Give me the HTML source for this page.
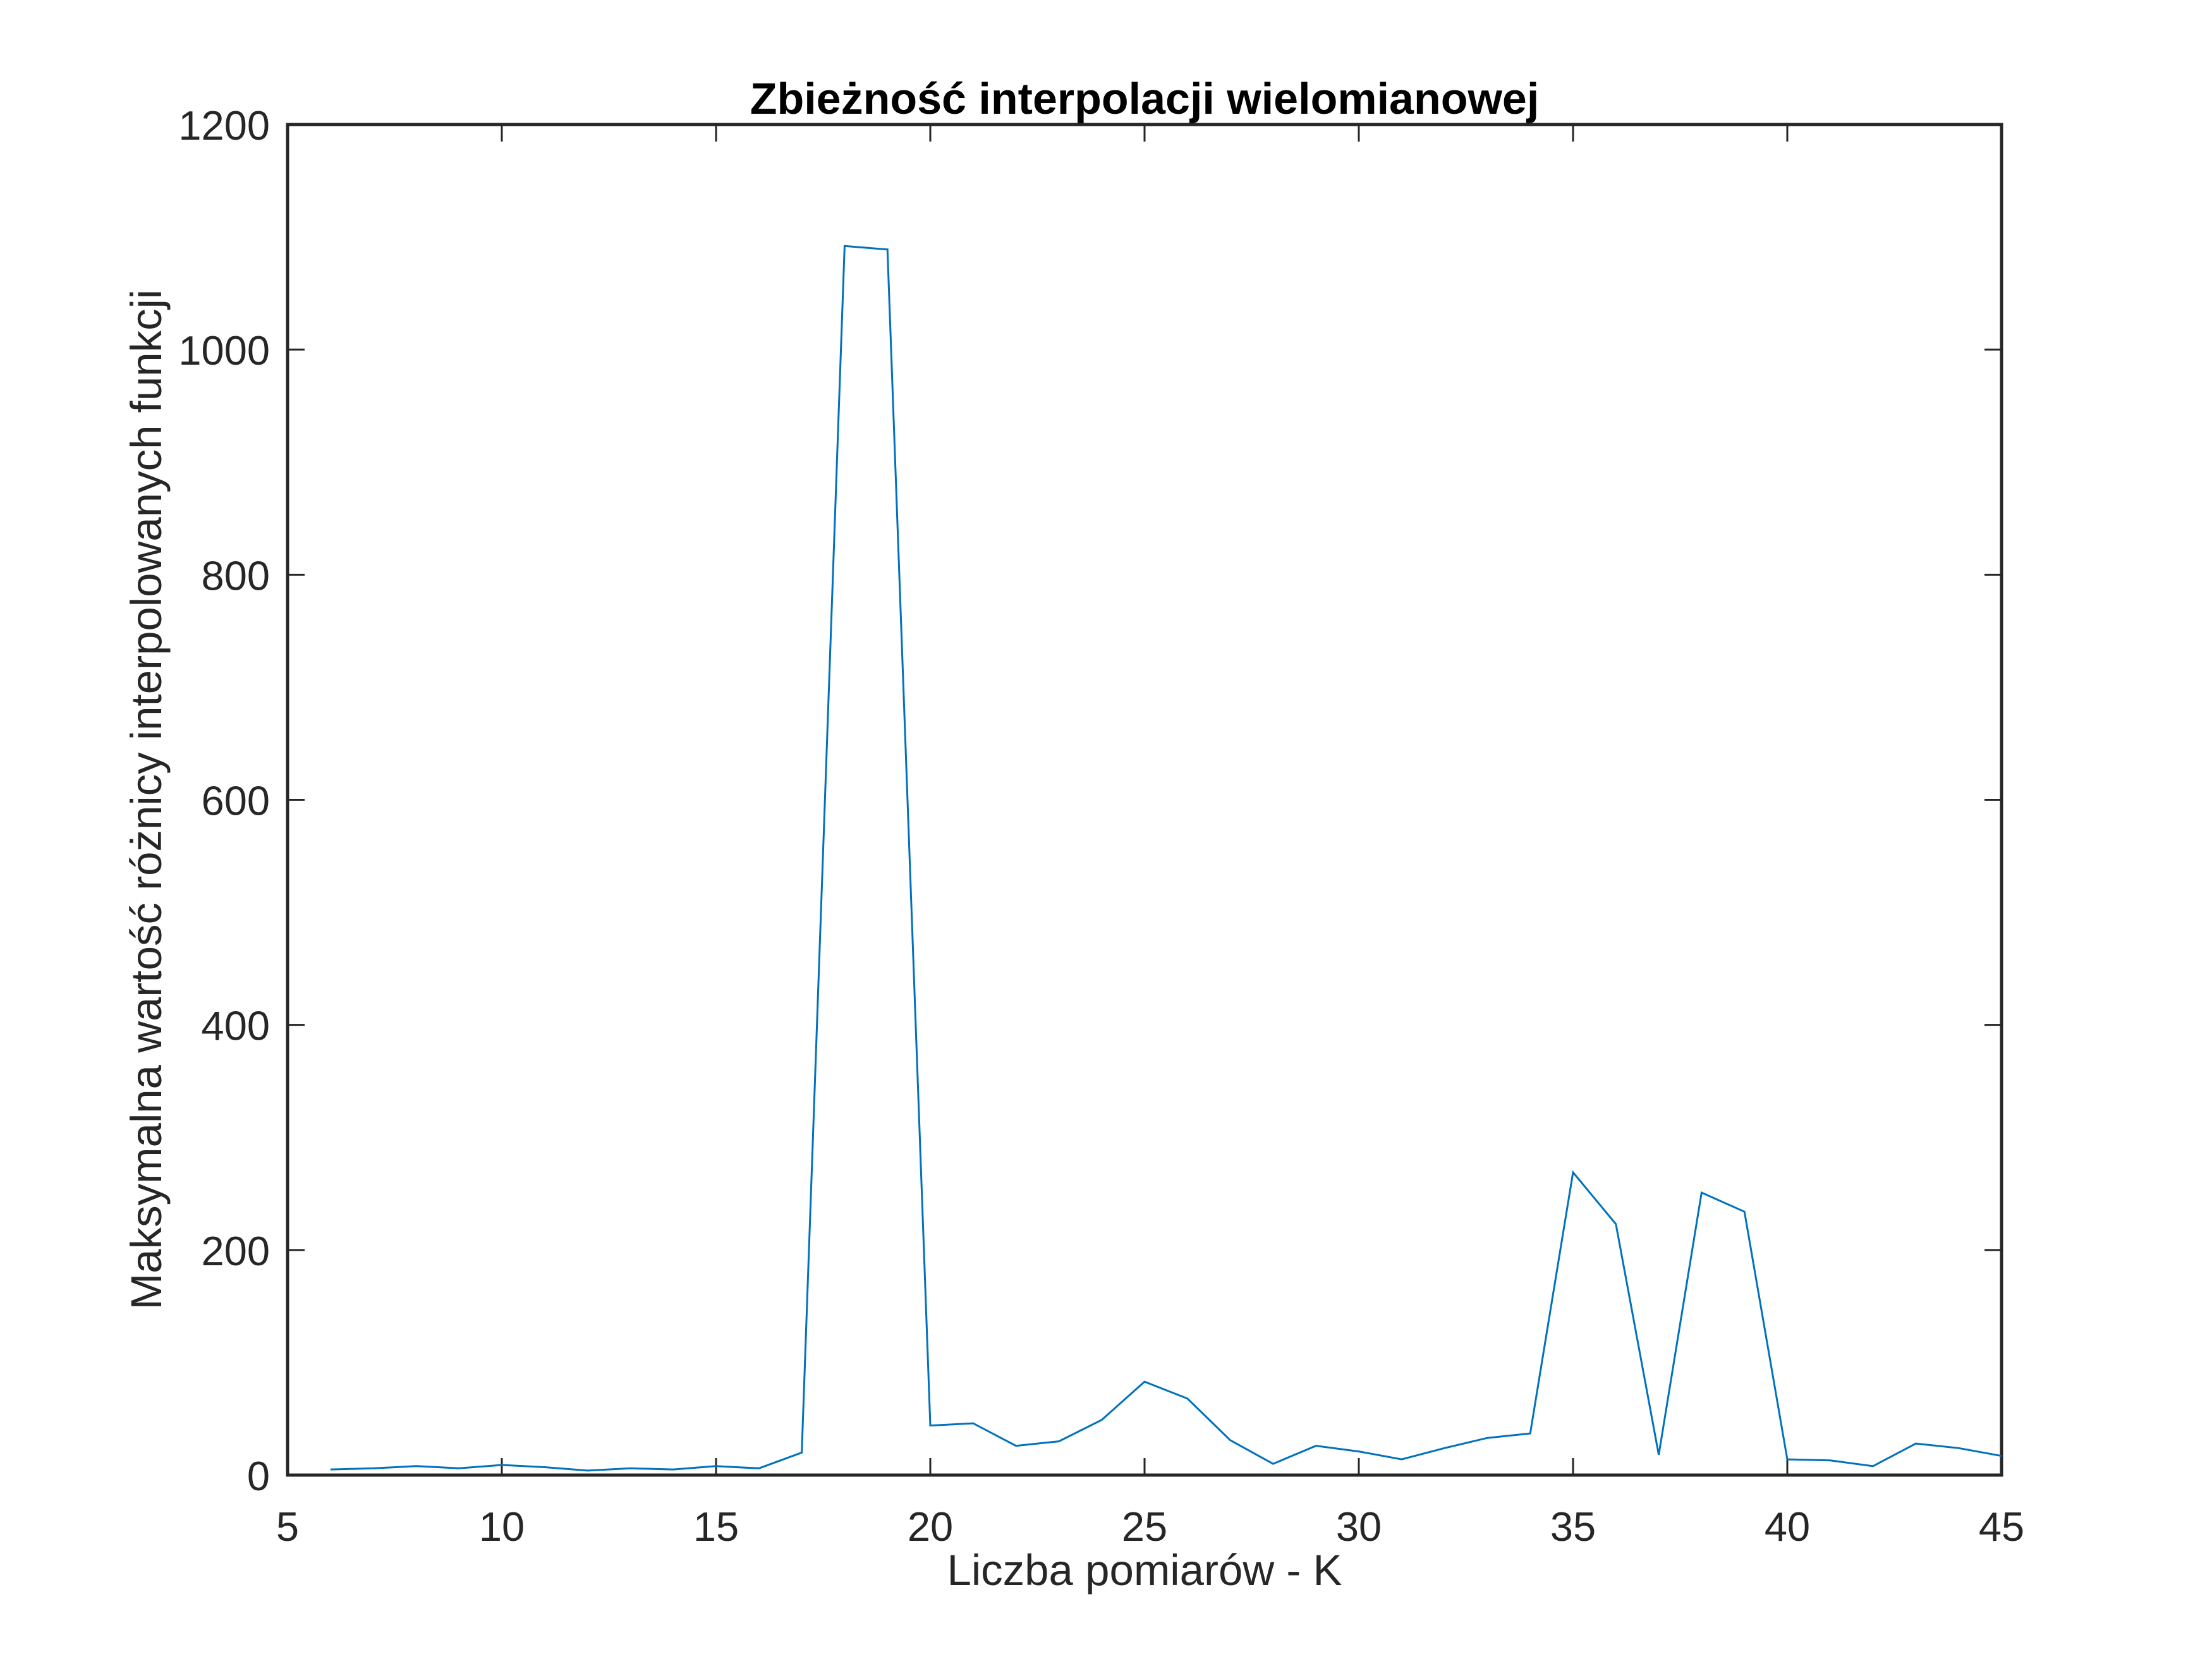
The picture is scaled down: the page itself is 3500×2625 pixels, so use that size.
<!DOCTYPE html>
<html><head><meta charset="utf-8"><style>
html,body{margin:0;padding:0;background:#fff;}
svg{display:block;font-family:"Liberation Sans","DejaVu Sans",sans-serif;}
</style></head><body>
<svg id="chart" width="3500" height="2625" viewBox="0 0 3500 2625" xmlns="http://www.w3.org/2000/svg">
<rect width="3500" height="2625" fill="#fff"/>
<g id="axes"></g>
<g id="series"></g>
<text x="1811" y="180" font-size="70" font-weight="bold" text-anchor="middle" fill="#000">Zbieżność interpolacji wielomianowej</text>
<text x="1811" y="2508" font-size="69" text-anchor="middle" fill="#262626">Liczba pomiarów - K</text>
<text x="0" y="0" font-size="69" text-anchor="middle" fill="#262626" transform="translate(255,1265) rotate(-90)">Maksymalna wartość różnicy interpolowanych funkcji</text>
</svg>
<script>
const xValues = [6,7,8,9,10,11,12,13,14,15,16,17,18,19,20,21,22,23,24,25,26,27,28,29,30,31,32,33,34,35,36,37,38,39,40,41,42,43,44,45];
const yValues = [5,6,8,6,9,7,4,6,5,8,6,20,1092,1089,44,46,26,30,49,83,68,31,10,26,21,14,24,33,37,269,223,18,251,234,14,13,8,28,24,17];
const xTicks = [5,10,15,20,25,30,35,40,45];
const yTicks = [0,200,400,600,800,1000,1200];

const L=455,R=3167,T=197,B=2334;
const xMin=5,xMax=45,yMin=0,yMax=1200;
const sx=v=>L+(v-xMin)/(xMax-xMin)*(R-L);
const sy=v=>B-(v-yMin)/(yMax-yMin)*(B-T);
const NS='http://www.w3.org/2000/svg';
const axes=document.getElementById('axes');
const series=document.getElementById('series');
function mk(tag,attrs,parent){const e=document.createElementNS(NS,tag);for(const k in attrs)e.setAttribute(k,attrs[k]);parent.appendChild(e);return e;}

const box=mk('rect',{x:L,y:T,width:R-L,height:B-T,fill:'none',stroke:'#262626','stroke-width':5},axes);



xTicks.forEach(t=>{
  const x=sx(t);
  const a=mk('line',{x1:x,y1:B,x2:x,y2:B-27,stroke:'#262626','stroke-width':3},axes);
  
  
  const b=mk('line',{x1:x,y1:T,x2:x,y2:T+27,stroke:'#262626','stroke-width':3},axes);
  
  
  const tx=mk('text',{x:x,y:B+104,'font-size':65,'text-anchor':'middle',fill:'#262626'},axes);
  tx.textContent=t;
  
  
});
yTicks.forEach(t=>{
  const y=sy(t);
  const a=mk('line',{x1:L,y1:y,x2:L+27,y2:y,stroke:'#262626','stroke-width':3},axes);
  
  
  const b=mk('line',{x1:R,y1:y,x2:R-27,y2:y,stroke:'#262626','stroke-width':3},axes);
  
  
  const tx=mk('text',{x:L-28,y:y+24,'font-size':65,'text-anchor':'end',fill:'#262626'},axes);
  tx.textContent=t;
  
  
});

const pts=xValues.map((x,i)=>sx(x).toFixed(1)+','+sy(yValues[i]).toFixed(1)).join(' ');
const line=mk('polyline',{points:pts,fill:'none',stroke:'#0072bd','stroke-width':3,'stroke-linejoin':'miter'},series);


</script>
</body></html>
